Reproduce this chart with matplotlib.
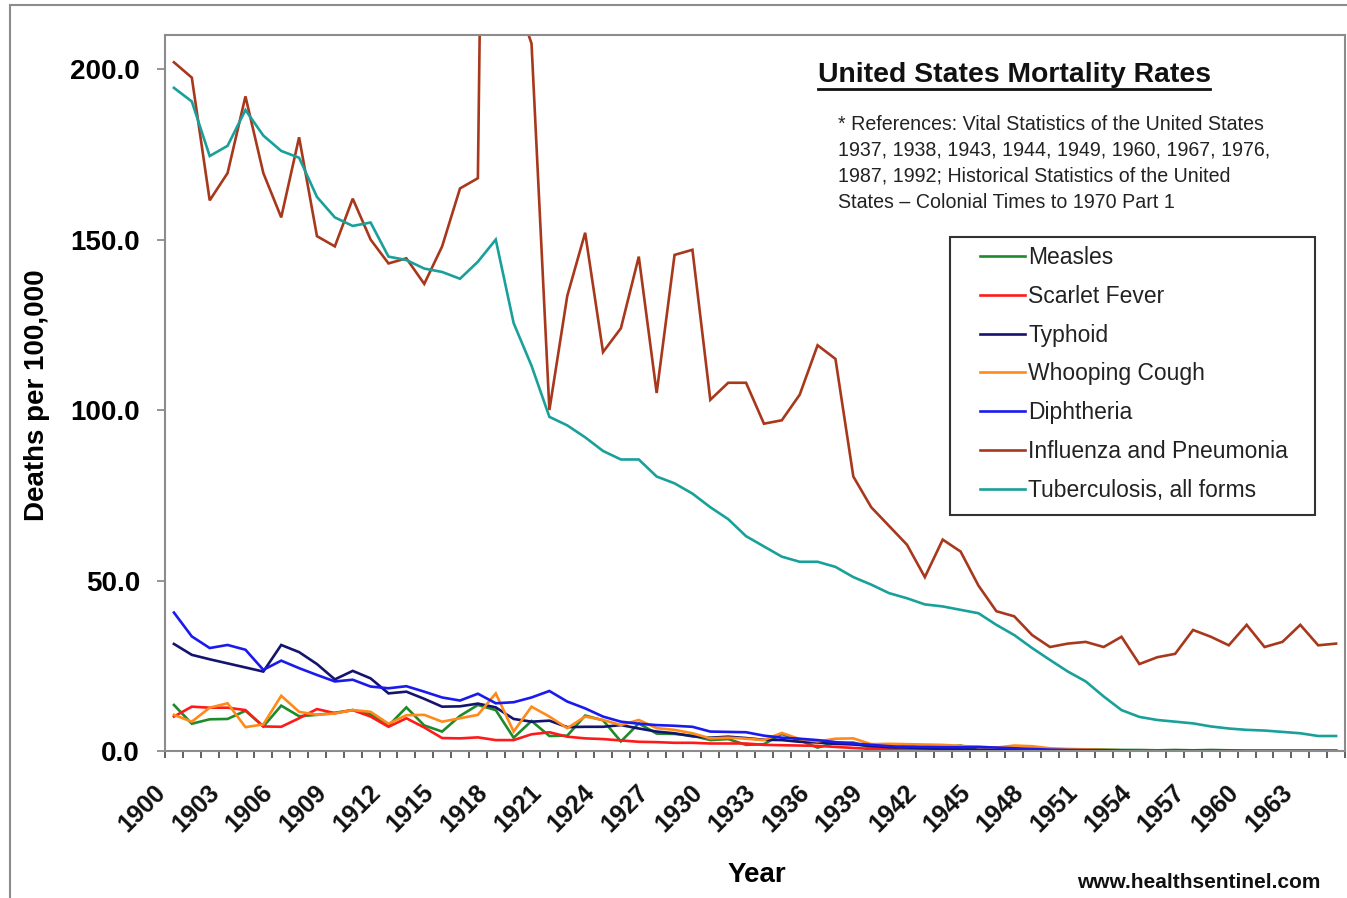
import matplotlib
matplotlib.use("Agg")
import matplotlib.pyplot as plt
from matplotlib.lines import Line2D
from matplotlib.patches import Rectangle
from matplotlib.transforms import offset_copy
import numpy as np

plt.rcParams['font.family'] = ['Liberation Sans', 'DejaVu Sans']

years = list(range(1900, 1966))

measles = [13.5, 8.0, 9.3, 9.4, 11.8, 7.2, 13.3, 10.2, 10.6, 11.2,
           12.0, 10.8, 7.4, 12.8, 7.5, 5.7, 10.3, 13.5, 12.0, 3.9,
           8.8, 4.4, 4.5, 10.4, 9.0, 2.8, 8.1, 5.1, 5.0, 4.5,
           3.2, 3.5, 1.8, 2.0, 5.0, 3.1, 1.0, 2.4, 2.5, 0.9,
           0.5, 1.7, 0.9, 1.1, 1.6, 0.2, 1.0, 0.5, 0.6, 0.5,
           0.3, 0.5, 0.4, 0.3, 0.3, 0.2, 0.3, 0.2, 0.3, 0.2,
           0.2, 0.2, 0.2, 0.2, 0.2, 0.1]

scarlet_fever = [10.1, 13.0, 12.7, 12.7, 12.0, 7.2, 7.1, 9.6, 12.3, 11.1,
                 12.0, 10.1, 7.1, 9.6, 6.9, 3.8, 3.7, 4.0, 3.2, 3.2,
                 4.9, 5.5, 4.2, 3.7, 3.5, 3.1, 2.7, 2.6, 2.4, 2.4,
                 2.2, 2.2, 2.2, 1.8, 1.7, 1.6, 1.5, 1.2, 0.9, 0.6,
                 0.5, 0.4, 0.3, 0.3, 0.3, 0.2, 0.2, 0.1, 0.1, 0.1,
                 0.1, 0.1, 0.1, 0.1, 0.1, 0.1, 0.0, 0.0, 0.0, 0.0,
                 0.0, 0.0, 0.0, 0.0, 0.0, 0.0]

typhoid = [31.4, 28.2, 26.9, 25.7, 24.5, 23.3, 31.1, 29.0, 25.5, 21.0,
           23.5, 21.3, 16.9, 17.4, 15.3, 13.0, 13.1, 13.9, 12.8, 9.4,
           8.6, 8.9, 7.0, 7.1, 7.1, 7.6, 6.6, 5.7, 5.2, 4.3,
           3.9, 4.2, 3.8, 3.3, 3.2, 2.7, 2.5, 2.1, 1.9, 1.5,
           1.1, 1.0, 0.8, 0.6, 0.5, 0.4, 0.3, 0.2, 0.2, 0.1,
           0.1, 0.1, 0.1, 0.1, 0.0, 0.0, 0.0, 0.0, 0.0, 0.0,
           0.0, 0.0, 0.0, 0.0, 0.0, 0.0]

whooping_cough = [10.6, 8.6, 12.7, 14.0, 7.0, 7.8, 16.2, 11.5, 10.6, 11.0,
                  12.0, 11.5, 8.0, 10.5, 10.6, 8.6, 9.6, 10.6, 16.9, 5.7,
                  13.0, 10.1, 6.7, 10.1, 9.1, 7.6, 9.1, 6.7, 6.2, 5.2,
                  3.7, 3.9, 3.6, 3.2, 5.3, 3.5, 2.8, 3.6, 3.7, 2.0,
                  2.1, 2.0, 1.9, 1.8, 1.5, 1.2, 1.0, 1.6, 1.4, 0.8,
                  0.6, 0.5, 0.3, 0.2, 0.2, 0.2, 0.1, 0.1, 0.1, 0.1,
                  0.1, 0.1, 0.1, 0.1, 0.1, 0.1]

diphtheria = [40.6, 33.6, 30.2, 31.1, 29.7, 23.8, 26.5, 24.3, 22.3, 20.4,
              20.9, 18.9, 18.4, 19.0, 17.4, 15.7, 14.8, 16.8, 14.0, 14.3,
              15.7, 17.6, 14.5, 12.5, 10.1, 8.6, 8.0, 7.6, 7.4, 7.1,
              5.7, 5.6, 5.5, 4.5, 3.9, 3.6, 3.2, 2.6, 2.2, 1.8,
              1.4, 1.2, 1.2, 1.1, 1.1, 1.2, 1.0, 0.8, 0.6, 0.4,
              0.3, 0.25, 0.2, 0.15, 0.1, 0.1, 0.1, 0.1, 0.1, 0.1,
              0.0, 0.0, 0.0, 0.0, 0.0, 0.0]

influenza_pneumonia = [202, 197.5, 161.5, 169.5, 192, 169.5, 156.5, 180, 151, 148,
                       162, 150, 143, 144.5, 137, 148, 165, 168, 588, 223,
                       207.5, 100, 133.5, 152, 117, 124, 145, 105, 145.5, 147,
                       103, 108, 108, 96, 97, 104.5, 119, 115, 80.5, 71.5,
                       66, 60.5, 51, 62, 58.5, 48.5, 41, 39.5, 34, 30.5,
                       31.5, 32, 30.5, 33.5, 25.5, 27.5, 28.5, 35.5, 33.5, 31,
                       37, 30.5, 32, 37, 31, 31.5]

tuberculosis = [194.5, 190.5, 174.5, 177.5, 188, 180.5, 176, 174, 162.5, 156.5,
                154, 155, 145, 144, 141.5, 140.5, 138.5, 143.5, 150, 125.5,
                113, 98, 95.5, 92, 88, 85.5, 85.5, 80.5, 78.5, 75.5,
                71.5, 68, 63, 60, 57, 55.5, 55.5, 54, 51, 48.8,
                46.3, 44.8, 43, 42.4, 41.4, 40.4, 37, 34, 30.2, 26.7,
                23.3, 20.4, 16, 12, 10, 9.1, 8.6, 8.1, 7.2, 6.6,
                6.2, 6.0, 5.6, 5.2, 4.4, 4.4]

series_names = ["Measles", "Scarlet Fever", "Typhoid", "Whooping Cough",
                "Diphtheria", "Influenza and Pneumonia", "Tuberculosis, all forms"]
series_values = [measles, scarlet_fever, typhoid, whooping_cough,
                 diphtheria, influenza_pneumonia, tuberculosis]
series_colors = ["#1f8a2a", "#ff1a1a", "#14146e", "#ff8a1a",
                 "#1a1aee", "#a8381c", "#19a09a"]

yticks = [0, 50, 100, 150, 200]
ytick_labels = ["0.0", "50.0", "100.0", "150.0", "200.0"]
label_years = [y for y in years[::3] if y <= 1963]

W, H = 1347, 898
fig = plt.figure(figsize=(W / 100, H / 100), dpi=100)
fig.patch.set_facecolor("white")

# outer chart-area border
fig.add_artist(Rectangle((10 / W, -0.05), 1.1, (898 - 5) / H + 0.05,
                         transform=fig.transFigure, fill=False,
                         edgecolor="#8c8c8c", linewidth=1.5))

L, R, T, B = 165, 1345, 35, 751
ax = fig.add_axes([L / W, 1 - B / H, (R - L) / W, (B - T) / H])

x = np.arange(len(years))
handles = []
for name, vals, col in zip(series_names, series_values, series_colors):
    ln, = ax.plot(x, vals, color=col, linewidth=1.9, label=name,
                  solid_joinstyle="miter")
    handles.append(ln)

ax.set_xlim(-0.5, len(years) - 0.5)
ax.set_ylim(0, 210)

for s in ax.spines.values():
    s.set_color("#8c8c8c")
    s.set_linewidth(1.5)

ax.set_yticks(yticks)
ax.set_yticklabels(ytick_labels, fontsize=20, fontweight="bold")
ax.tick_params(axis="y", direction="out", length=6, width=1.3,
               color="#8c8c8c", pad=12)

ax.set_xticks(np.arange(-0.5, len(years), 1))
ax.set_xticklabels([])
ax.tick_params(axis="x", direction="out", length=5, width=1.3, color="#555555")

lab_tr = offset_copy(ax.get_xaxis_transform(), fig=fig, x=-12, y=-38, units="dots")
for yr in label_years:
    ax.text(years.index(yr), 0, str(yr), transform=lab_tr, rotation=45,
            rotation_mode="anchor", ha="right", va="center",
            fontsize=18, fontweight="bold", color="#111111")

fig.text(37 / W, 1 - 395 / H, "Deaths per 100,000", rotation=90,
         ha="center", va="center", fontsize=20, fontweight="bold")
fig.text(757 / W, 1 - 875 / H, "Year", ha="center", va="center",
         fontsize=20, fontweight="bold")

# title with underline
fig.text(818 / W, 1 - 82 / H, "United States Mortality Rates", ha="left",
         va="baseline", fontsize=20.4, fontweight="bold", color="#111111")
fig.add_artist(Line2D([818 / W, 1210 / W], [1 - 89 / H, 1 - 89 / H],
                      transform=fig.transFigure, color="#111111", linewidth=2))

ref_lines = ["* References: Vital Statistics of the United States",
             "1937, 1938, 1943, 1944, 1949, 1960, 1967, 1976,",
             "1987, 1992; Historical Statistics of the United",
             "States \u2013 Colonial Times to 1970 Part 1"]
for k, t in enumerate(ref_lines):
    fig.text(838 / W, 1 - (124 + 26 * k) / H, t, ha="left", va="center",
             fontsize=14.1, color="#222222")

# legend
fig.add_artist(Rectangle((950 / W, 1 - 515 / H), (1315 - 950) / W, (515 - 237) / H,
                         transform=fig.transFigure, fill=False,
                         edgecolor="#333333", linewidth=1.5))
leg = fig.legend(handles=handles, loc="upper left",
                 bbox_to_anchor=(980 / W, 1 - 246 / H), frameon=False,
                 fontsize=16.5, borderpad=0, borderaxespad=0,
                 handlelength=1.95, handletextpad=0.15, labelspacing=0.69)
for t in leg.get_texts():
    t.set_color("#222222")

fig.text(1320 / W, 1 - 883 / H, "www.healthsentinel.com", ha="right",
         va="center", fontsize=15, fontweight="bold", color="#111111")

fig.savefig("out.png", dpi=100, facecolor="white")
